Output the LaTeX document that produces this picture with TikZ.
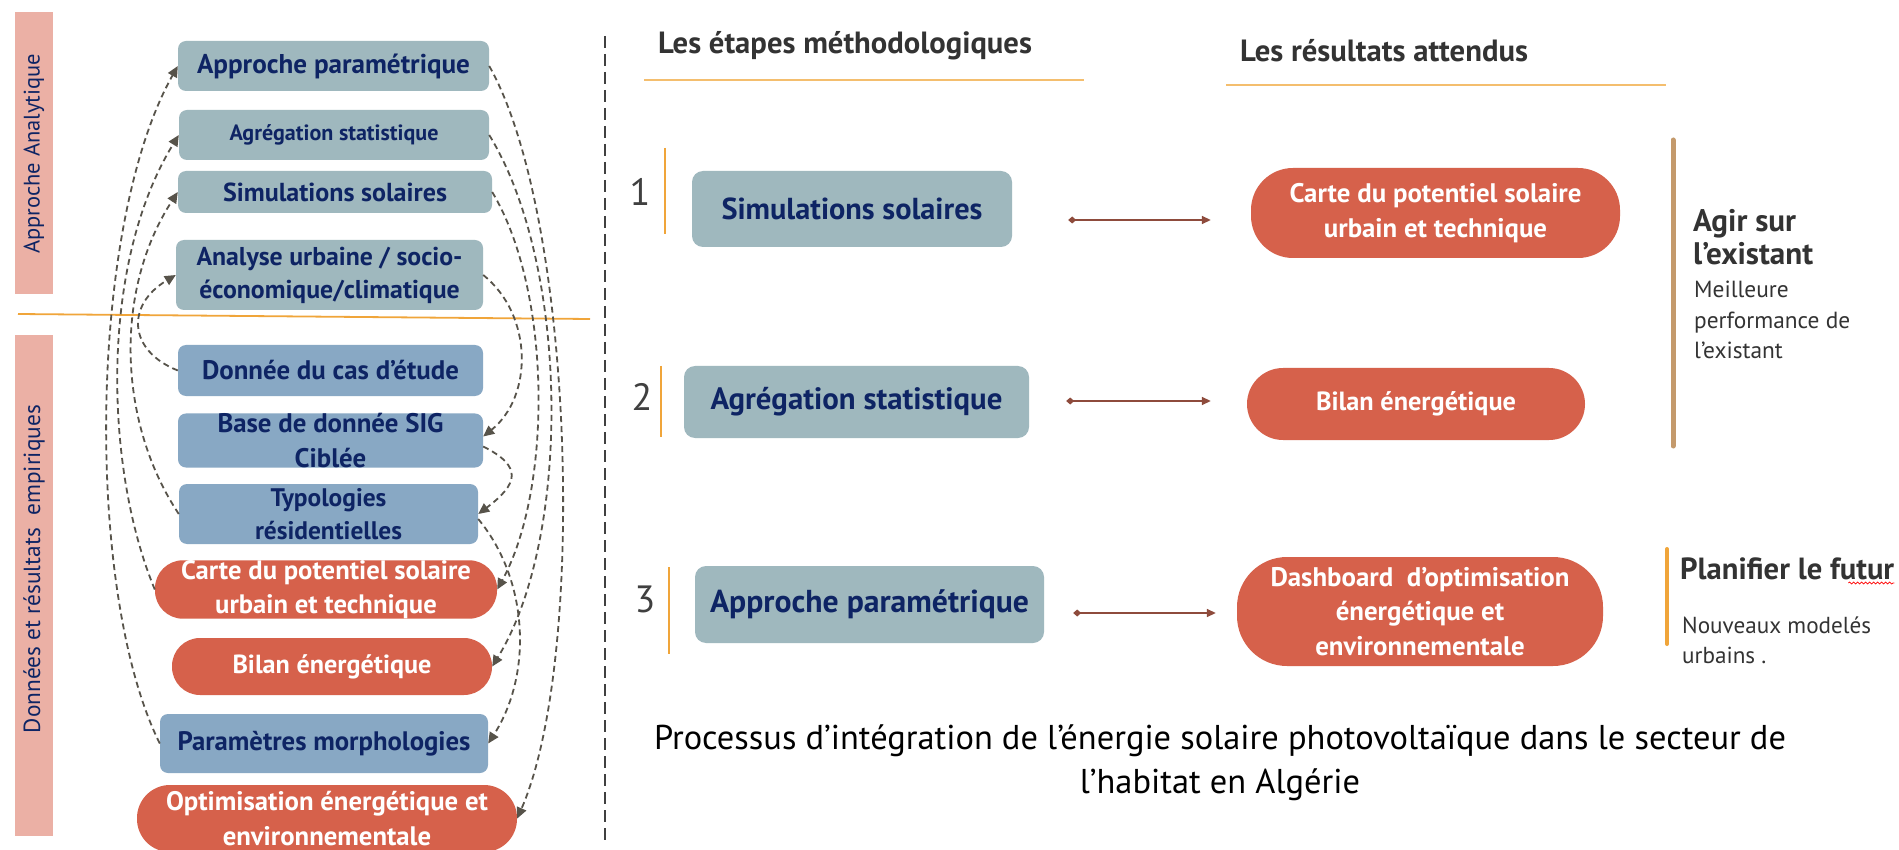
\documentclass[tikz,border=0pt]{standalone}
\usepackage{fontspec}
\setmainfont{PT Sans}
\usetikzlibrary{arrows.meta,decorations.pathmorphing}
\definecolor{gb}{HTML}{9FB8BE}
\definecolor{sb}{HTML}{88A8C4}
\definecolor{orr}{HTML}{D6614B}
\definecolor{navy}{HTML}{0E2464}
\definecolor{pinkb}{HTML}{EBB0A5}
\definecolor{orl}{HTML}{F0A53A}
\definecolor{orlight}{HTML}{F4BE6E}
\definecolor{brn}{HTML}{8E4B3C}
\definecolor{tanb}{HTML}{C49A6C}
\definecolor{dgr}{HTML}{57534A}
\definecolor{txt}{HTML}{333333}
\newcommand\fitto[2]{\setbox0\hbox{\fontsize{10pt}{12pt}\selectfont #2}\pgfmathsetmacro\fitsz{10*#1/\the\wd0}\pgfmathsetmacro\fitbs{1.28*\fitsz}\fontsize{\fitsz pt}{\fitbs pt}\selectfont}
\begin{document}
\begin{tikzpicture}[x=1pt,y=-1pt,
  gbox/.style={rounded corners=8pt, fill=gb, text=navy, inner sep=0pt, align=center},
  bbox/.style={rounded corners=8pt, fill=sb, text=navy, inner sep=0pt, align=center},
  sbox/.style={rounded corners=11pt, fill=gb, text=navy, inner sep=0pt, align=center},
  pill/.style={rounded corners=#1, fill=orr, text=white, inner sep=0pt, align=center},
  pill/.default=26pt,
  dcon/.style={draw=dgr, line width=1.8pt, dash pattern=on 6pt off 4pt, -{Triangle[length=11pt,width=10pt]}},
  barrow/.style={draw=brn, line width=1.6pt, {Diamond[length=8pt,width=7pt]}-{Triangle[length=9pt,width=8pt]}},
  plain/.style={inner sep=0pt, align=left}]
\useasboundingbox (0,0) rectangle (1899,850);
\fill[white] (0,0) rectangle (1899,850);

% pink side bars
\fill[pinkb] (15,12) rectangle (53,294);
\fill[pinkb] (15,335) rectangle (53,836);
\node[plain, rotate=90, text=navy, font=\fitto{200}{Approche Analytique}] (lab1) at (34,154) {Approche Analytique};
\node[plain, rotate=90, text=navy, font=\fitto{328}{Données et résultats~~empiriques}] (lab2) at (34,569) {Données et résultats~~empiriques};

% separators
\draw[orl, line width=1.8pt] (18,314) -- (590,319);
\draw[black!75, line width=1.2pt, dash pattern=on 12pt off 6pt] (605,36) -- (605,840);

% left boxes
\node[gbox, minimum width=311pt, minimum height=50pt, font=\bfseries\fitto{273}{Approche paramétrique}] (appL) at (333.5,66) {Approche paramétrique};
\node[gbox, minimum width=310pt, minimum height=50pt, font=\bfseries\fitto{209}{Agrégation statistique}] (agrL) at (334,135) {Agrégation statistique};
\node[gbox, minimum width=314pt, minimum height=42pt, font=\bfseries\fitto{224}{Simulations solaires}] (simL) at (335,192) {Simulations solaires};
\node[gbox, minimum width=307pt, minimum height=70pt, font=\bfseries\fitto{266}{Analyse urbaine / socio-}] (anaL) at (329.5,275) {Analyse urbaine / socio-\\économique/climatique};
\node[bbox, minimum width=305pt, minimum height=51pt, font=\bfseries\fitto{257}{Donnée du cas d’étude}] (donL) at (330.5,370.5) {Donnée du cas d’étude};
\node[bbox, minimum width=305pt, minimum height=53pt, font=\bfseries\fitto{226}{Base de donnée SIG}] (basL) at (330.5,440.5) {Base de donnée SIG\\Ciblée};
\node[bbox, minimum width=299pt, minimum height=60pt, font=\bfseries\fitto{147}{résidentielles}] (typL) at (328.5,514) {Typologies\\résidentielles};
\node[pill=28pt, minimum width=342pt, minimum height=57pt, font=\bfseries\fitto{290}{Carte du potentiel solaire}] (carL) at (326,589.5) {Carte du potentiel solaire\\urbain et technique};
\node[pill=28pt, minimum width=320pt, minimum height=57pt, font=\bfseries\fitto{199}{Bilan énergétique}] (bilL) at (332,666.5) {Bilan énergétique};
\node[bbox, minimum width=328pt, minimum height=59pt, font=\bfseries\fitto{293}{Paramètres morphologies}] (parL) at (324,743.5) {Paramètres morphologies};
\node[pill=33pt, minimum width=380pt, minimum height=67pt, font=\bfseries\fitto{322}{Optimisation énergétique et}] (optL) at (327,818.5) {Optimisation énergétique et\\environnementale};

% left dashed connectors
\draw[dcon] (parL.west) .. controls +(-75,-150) and +(-90,160) .. (appL.west);
\draw[dcon] (carL.west) .. controls +(-50,-120) and +(-80,130) .. (agrL.west);
\draw[dcon] (typL.west) .. controls +(-60,-90) and +(-65,100) .. (simL.west);
\draw[dcon] (donL.west) .. controls +(-50,-20) and +(-50,30) .. (anaL.west);

% right dashed connectors
\draw[dcon] (appL.east) .. controls +(85,150) and +(70,-160) .. (optL.east);
\draw[dcon] (agrL.east) .. controls +(80,130) and +(80,-130) .. (bilL.east);
\draw[dcon] (simL.east) .. controls +(60,100) and +(55,-100) .. (carL.east);
\draw[dcon] (anaL.east) .. controls +(50,40) and +(50,-40) .. ([yshift=4pt]basL.east);
\draw[dcon] ([yshift=-6pt]basL.east) .. controls +(40,20) and +(40,-30) .. (typL.east);
\draw[dcon] ([yshift=-5pt]typL.east) .. controls +(50,60) and +(45,-70) .. (parL.east);

% headers
\node[plain, text=txt, font=\bfseries\fitto{374}{Les étapes méthodologiques}] (h1) at (845,46) {Les étapes méthodologiques};
\node[plain, text=txt, font=\bfseries\fitto{288}{Les résultats attendus}] (h2) at (1384,51) {Les résultats attendus};
\draw[orlight, line width=2.5pt] (644,80) -- (1084,80);
\draw[orlight, line width=2.5pt] (1226,85) -- (1666,85);

% step numbers and bars
\node[plain, text=black!75, font=\fontsize{38pt}{40pt}\selectfont] (n1) at (640,192) {1};
\node[plain, text=black!75, font=\fontsize{38pt}{40pt}\selectfont] (n2) at (642,397) {2};
\node[plain, text=black!75, font=\fontsize{38pt}{40pt}\selectfont] (n3) at (645,599) {3};
\draw[orl, line width=1.5pt] (665,148) -- (665,234);
\draw[orl, line width=1.5pt] (661,366) -- (661,437);
\draw[orl, line width=1.5pt] (669,567) -- (669,654);

% step boxes
\node[sbox, minimum width=320pt, minimum height=76pt, font=\bfseries\fitto{261}{Simulations solaires}] (st1) at (852,209) {Simulations solaires};
\node[sbox, minimum width=345pt, minimum height=72pt, font=\bfseries\fitto{292}{Agrégation statistique}] (st2) at (856.5,402) {Agrégation statistique};
\node[sbox, minimum width=349pt, minimum height=77pt, font=\bfseries\fitto{319}{Approche paramétrique}] (st3) at (869.5,604.5) {Approche paramétrique};

% result boxes
\node[pill=42pt, minimum width=369pt, minimum height=90pt, font=\bfseries\fitto{292}{Carte du potentiel solaire}] (r1) at (1435.5,213) {Carte du potentiel solaire\\urbain et technique};
\node[pill=36pt, minimum width=338pt, minimum height=72pt, font=\bfseries\fitto{200}{Bilan énergétique}] (r2) at (1416,404) {Bilan énergétique};
\node[pill=50pt, minimum width=366pt, minimum height=109pt, font=\bfseries\fitto{299}{Dashboard~~d’optimisation}] (r3) at (1420,611.5) {Dashboard~~d’optimisation\\énergétique et\\environnementale};

% step -> result arrows
\draw[barrow] ([xshift=56pt,yshift=-11pt]st1.east) -- ([xshift=-40pt,yshift=-7pt]r1.west);
\draw[barrow] ([xshift=37pt,yshift=1pt]st2.east) -- ([xshift=-36pt,yshift=3pt]r2.west);
\draw[barrow] ([xshift=29pt,yshift=-8.5pt]st3.east) -- ([xshift=-21pt,yshift=-1.5pt]r3.west);

% right annotations
\draw[tanb, line width=5pt, line cap=round] (1673,140) -- (1673,446);
\node[plain, anchor=north west, text=txt, font=\bfseries\fitto{120}{l’existant}\fontsize{\fitsz pt}{33pt}\selectfont] (agir) at (1693,209) {Agir sur\\l’existant};
\node[plain, anchor=north west, text=txt, font=\fitto{156}{performance de}\fontsize{\fitsz pt}{30.5pt}\selectfont] (meil) at (1694,281) {Meilleure\\performance de\\l’existant};
\draw[orl, line width=4pt, line cap=round] (1667,549) -- (1667,644);
\node[plain, anchor=west, text=txt, font=\bfseries\fitto{214}{Planifier le futur}] (plan) at (1680,569) {Planifier le futur};
\draw[red, line width=0.7pt, decorate, decoration={snake, amplitude=1pt, segment length=4pt}] ([xshift=-46pt,yshift=-14pt]plan.east) -- ([yshift=-14pt]plan.east);
\node[plain, anchor=north west, text=txt, font=\fitto{189}{Nouveaux modelés}\fontsize{\fitsz pt}{30pt}\selectfont] (nouv) at (1682,617) {Nouveaux modelés\\urbains .};

% title
\node[inner sep=0pt, align=center, text=black, font=\fitto{1132}{Processus d’intégration de l’énergie solaire photovoltaïque dans le secteur de}\fontsize{\fitsz pt}{44pt}\selectfont] (title) at (1220,763) {Processus d’intégration de l’énergie solaire photovoltaïque dans le secteur de\\l’habitat en Algérie};
\end{tikzpicture}
\end{document}
